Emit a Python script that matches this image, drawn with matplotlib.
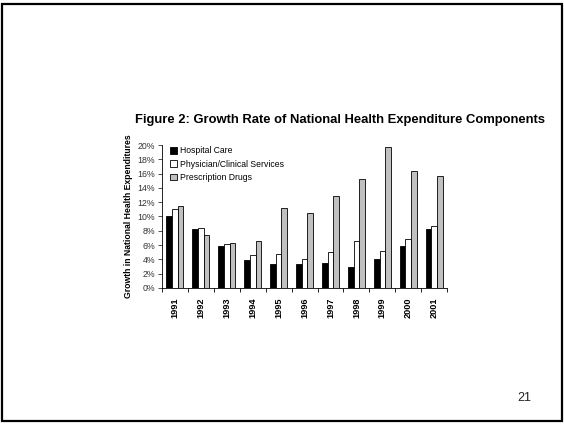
import numpy as np
import matplotlib.pyplot as plt
from matplotlib.patches import Rectangle
from matplotlib.ticker import PercentFormatter

years = ['1991', '1992', '1993', '1994', '1995', '1996',
         '1997', '1998', '1999', '2000', '2001']
hospital = [10.1, 8.2, 5.9, 3.9, 3.4, 3.4, 3.5, 2.9, 4.1, 5.8, 8.3]
physician = [11.1, 8.4, 6.1, 4.6, 4.8, 4.0, 5.0, 6.6, 5.2, 6.9, 8.6]
drugs = [11.4, 7.4, 6.3, 6.6, 11.2, 10.5, 12.8, 15.2, 19.7, 16.4, 15.7]

plt.rcParams['font.family'] = ['Liberation Sans', 'DejaVu Sans']

fig = plt.figure(figsize=(5.64, 4.24), dpi=100)
fig.patch.set_facecolor('white')

# slide border
fig.patches.append(Rectangle((0.004, 0.007), 0.993, 0.984, transform=fig.transFigure,
                             fill=False, edgecolor='black', linewidth=1.6))

ax = fig.add_axes([0.287, 0.321, 0.506, 0.337])
x = np.arange(len(years))
w = 0.22
ax.bar(x - w, hospital, w, color='black', edgecolor='black', linewidth=0.6, label='Hospital Care')
ax.bar(x, physician, w, color='white', edgecolor='black', linewidth=0.6, label='Physician/Clinical Services')
ax.bar(x + w, drugs, w, color='#c0c0c0', edgecolor='black', linewidth=0.6, label='Prescription Drugs')

ax.set_xlim(-0.5, len(years) - 0.5)
ax.set_ylim(0, 20)
ax.set_yticks(range(0, 21, 2))
ax.yaxis.set_major_formatter(PercentFormatter(decimals=0))
ax.set_xticks(x)
ax.set_xticklabels(years, rotation=90, fontsize=6.6, fontweight='bold')
ax.set_xticks(np.arange(-0.5, len(years)), minor=True)
ax.tick_params(axis='x', which='major', length=0, pad=7)
ax.tick_params(axis='x', which='minor', length=3, width=0.6)
ax.tick_params(axis='y', labelsize=6.3, length=3, width=0.6, pad=2, colors='#333333')
for side in ['top', 'right']:
    ax.spines[side].set_visible(False)
for side in ['left', 'bottom']:
    ax.spines[side].set_linewidth(0.6)

ax.set_ylabel('Growth in National Health Expenditures', fontsize=6.2, fontweight='bold', labelpad=3)

ax.legend(loc='upper left', bbox_to_anchor=(0.0, 1.045), frameon=False, fontsize=6.2,
          handlelength=0.8, handleheight=0.8, handletextpad=0.4, labelspacing=0.5)

fig.text(0.603, 0.716, 'Figure 2: Growth Rate of National Health Expenditure Components',
         ha='center', va='center', fontsize=9.4, fontweight='bold')
fig.text(0.929, 0.061, '21', ha='center', va='center', fontsize=9, color='#222222')

fig.savefig('out.png', dpi=100)
